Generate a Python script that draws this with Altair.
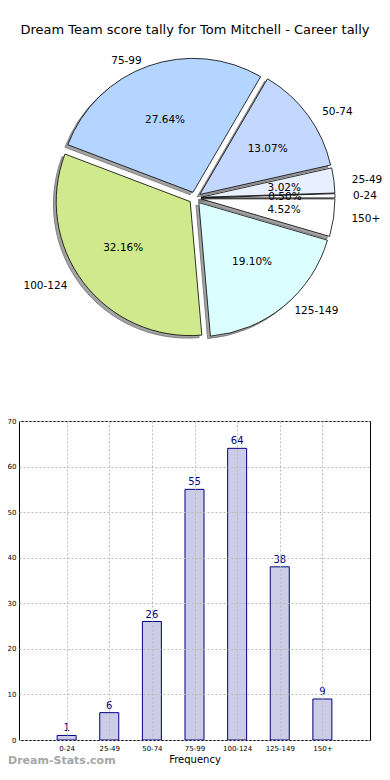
import altair as alt
import pandas as pd

title_text = "Dream Team score tally for Tom Mitchell - Career tally"
categories = ["0-24", "25-49", "50-74", "75-99", "100-124", "125-149", "150+"]
counts = [1, 6, 26, 55, 64, 38, 9]
slice_colors = ["#ffffff", "#e8efff", "#c4d7ff", "#b3d5ff", "#cfe98c", "#dbffff", "#ffffff"]
x_title = "Frequency"
watermark = "Dream-Stats.com"

FONT = "DejaVu Sans"
# pie geometry, in pixels relative to the bar plot's top-left corner
CX, CY, EXP, R, RX, RY = 176, -223, 6, 134, 140, 127

df = pd.DataFrame({"label": categories, "count": counts, "idx": list(range(len(categories)))})

base = (
    alt.Chart(df)
    .transform_joinaggregate(total="sum(count)")
    .transform_window(cum="sum(count)", sort=[alt.SortField("idx")])
    .transform_calculate(a0="2*PI*(datum.cum - datum.count)/datum.total")
    .transform_calculate(a1="2*PI*datum.cum/datum.total")
    .transform_calculate(mid="(datum.a0 + datum.a1)/2")
    .transform_calculate(t0="2.5*PI - datum.a1")
    .transform_calculate(t1="2.5*PI - datum.a0")
    .transform_calculate(pct="format(100*datum.count/datum.total, '.2f') + '%'")
    .transform_calculate(cx=f"{CX} + {EXP}*cos(datum.mid)")
    .transform_calculate(cy=f"{CY} - {EXP}*sin(datum.mid)")
    .transform_calculate(sx="datum.cx - 2.8")
    .transform_calculate(sy="datum.cy + 2.5")
    .transform_calculate(px=f"datum.cx + 0.6*{RX}*cos(datum.mid)")
    .transform_calculate(py=f"datum.cy - 0.6*{RY}*sin(datum.mid)")
    .transform_calculate(lx=f"datum.cx + 1.1*{RX}*cos(datum.mid)")
    .transform_calculate(ly=f"datum.cy - 1.1*{RY}*sin(datum.mid)")
    .transform_calculate(side="cos(datum.mid) >= 0 ? 1 : 0")
)

shadow = base.mark_arc(radius=R, fill="#a3a3a3", stroke="#6e6e6e", strokeWidth=0.8).encode(
    x=alt.X("sx:Q", scale=None, axis=None),
    y=alt.Y("sy:Q", scale=None, axis=None),
    theta=alt.Theta("t0:Q", scale=None, stack=None),
    theta2="t1:Q",
)

arcs = base.mark_arc(radius=R, stroke="black", strokeWidth=0.8).encode(
    x=alt.X("cx:Q", scale=None, axis=None),
    y=alt.Y("cy:Q", scale=None, axis=None),
    theta=alt.Theta("t0:Q", scale=None, stack=None),
    theta2="t1:Q",
    fill=alt.Fill("label:N", scale=alt.Scale(domain=categories, range=slice_colors), legend=None),
)

pct = base.mark_text(font=FONT, fontSize=10.5, color="black", baseline="middle", align="center").encode(
    x=alt.X("px:Q", scale=None, axis=None),
    y=alt.Y("py:Q", scale=None, axis=None),
    text="pct:N",
)

lab_r = base.transform_filter("datum.side == 1").mark_text(
    font=FONT, fontSize=10.5, color="black", baseline="middle", align="left", dx=-2
).encode(
    x=alt.X("lx:Q", scale=None, axis=None),
    y=alt.Y("ly:Q", scale=None, axis=None),
    text="label:N",
)

lab_l = base.transform_filter("datum.side == 0").mark_text(
    font=FONT, fontSize=10.5, color="black", baseline="middle", align="right"
).encode(
    x=alt.X("lx:Q", scale=None, axis=None),
    y=alt.Y("ly:Q", scale=None, axis=None),
    text="label:N",
)

title = alt.Chart(pd.DataFrame({"t": [title_text]})).mark_text(
    font=FONT, fontSize=13, color="black", baseline="middle", align="center"
).encode(x=alt.value(CX), y=alt.value(-391), text="t:N")

label_expr = "[" + ",".join(f"'{c}'" for c in categories) + "][datum.value]"

bar_base = alt.Chart(df)

bars = bar_base.mark_bar(size=19, fill="#ccccE6", stroke="#000080", strokeWidth=1).encode(
    x=alt.X(
        "idx:Q",
        scale=alt.Scale(domain=[-1, 7], nice=False, zero=False),
        axis=alt.Axis(
            values=list(range(len(categories))),
            labelExpr=label_expr,
            title=x_title,
            titleFont=FONT,
            titleFontSize=10,
            titleFontWeight="normal",
            titleColor="black",
            titlePadding=3,
            labelFont=FONT,
            labelFontSize=7,
            labelColor="black",
            labelPadding=4,
            ticks=False,
            domain=False,
            grid=True,
            gridColor="#bbbbbb",
            gridDash=[2, 2],
            gridWidth=1,
            zindex=1,
        ),
    ),
    y=alt.Y(
        "count:Q",
        scale=alt.Scale(domain=[0, 70], nice=False),
        axis=alt.Axis(
            values=list(range(0, 71, 10)),
            title=None,
            labelFont=FONT,
            labelFontSize=7,
            labelColor="black",
            labelPadding=3,
            ticks=False,
            domain=False,
            grid=True,
            gridColor="#bbbbbb",
            gridDash=[2, 2],
            gridWidth=1,
            zindex=1,
        ),
    ),
)

values = bar_base.mark_text(font=FONT, fontSize=10, color="#000080", baseline="bottom", dy=-2).encode(
    x="idx:Q", y="count:Q", text="count:Q"
)

wm = alt.Chart(pd.DataFrame({"t": [watermark]})).mark_text(
    font=FONT, fontSize=11, fontWeight="bold", color="#a6a6a6", baseline="middle", align="left"
).encode(x=alt.value(-11), y=alt.value(340), text="t:N")

chart = (
    alt.layer(shadow, arcs, pct, lab_r, lab_l, title, bars, values, wm)
    .properties(
        width=351,
        height=319,
        autosize=alt.AutoSizeParams(type="none"),
        padding={"left": 11, "top": 413, "right": 12, "bottom": 29},
    )
    .configure_view(stroke="black", strokeWidth=1)
)

chart.save("out.html", embed_options={"renderer": "svg", "actions": False})
